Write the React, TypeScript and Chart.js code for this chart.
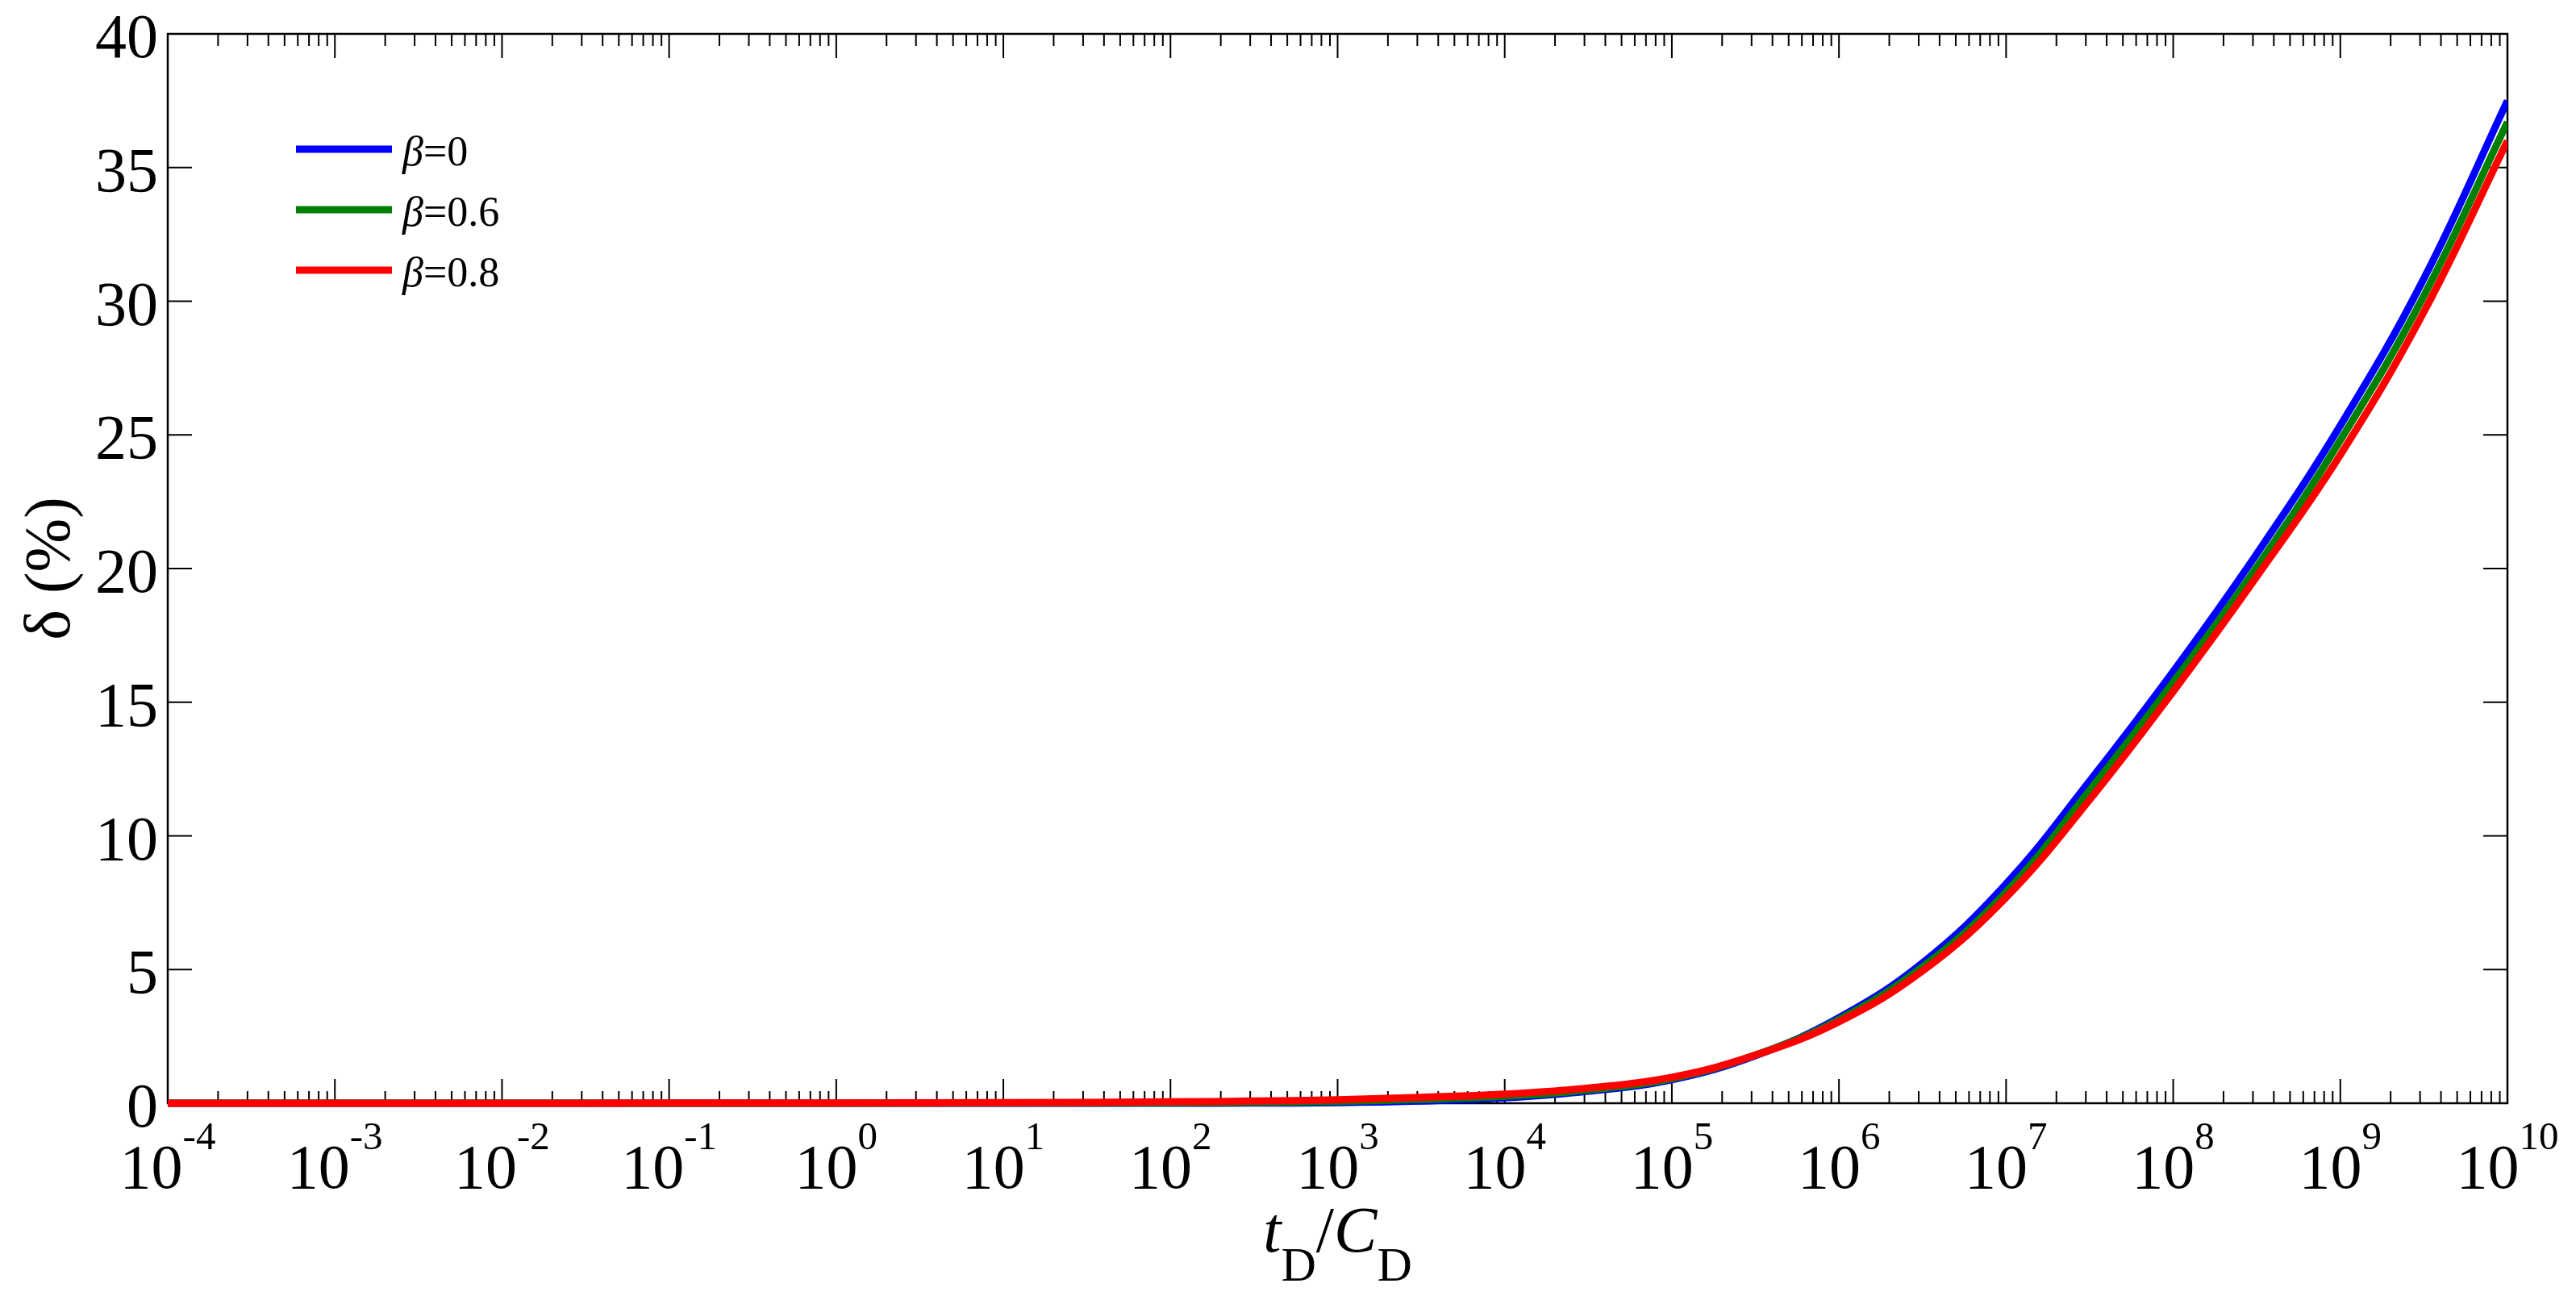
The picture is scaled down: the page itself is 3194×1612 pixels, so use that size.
import React, { useEffect, useRef } from 'react';
import { Chart, registerables } from 'chart.js';

Chart.register(...registerables);

// log10(tD/CD) sample positions
const logT = [-4, -3, -2, -1, 0, 1, 2, 2.5, 3, 3.5, 4, 4.5, 5, 5.5, 6, 6.5, 7, 7.5, 8, 8.5, 9, 9.5, 10];
// delta (%) for each beta
const beta0 = [0, 0, 0, 0, 0, 0, 0, 0.005, 0.02, 0.08, 0.2, 0.45, 0.88, 1.78, 3.2, 5.25, 8.2, 12.05, 16.15, 20.55, 25.35, 30.85, 37.5];
const beta06 = [0, 0, 0, 0, 0, 0.005, 0.015, 0.03, 0.07, 0.14, 0.26, 0.5, 0.92, 1.8, 3.13, 5.1, 7.9, 11.7, 15.75, 20.05, 24.8, 30.2, 36.7];
const beta08 = [0, 0, 0, 0.005, 0.01, 0.02, 0.05, 0.08, 0.13, 0.22, 0.34, 0.57, 0.97, 1.8, 3.05, 4.95, 7.7, 11.35, 15.4, 19.7, 24.25, 29.6, 36.0];

const seriesValues = [beta0, beta06, beta08];
const seriesLabels = ['0', '0.6', '0.8'];
const seriesColors = ['#0000ff', '#008000', '#ff0000'];

const yTicks = [0, 5, 10, 15, 20, 25, 30, 35, 40];
const xTickExponents = [-4, -3, -2, -1, 0, 1, 2, 3, 4, 5, 6, 7, 8, 9, 10];
const minorMultipliers = [2, 3, 4, 5, 6, 7, 8, 9];

const FONT = '"Liberation Serif", "Times New Roman", serif';

const framePlugin = {
  id: 'matlabFrame',
  beforeDatasetsDraw(chart: any) {
    const { ctx, chartArea: a, scales } = chart;
    const x = scales.x;
    const y = scales.y;
    ctx.save();
    ctx.strokeStyle = '#000';
    ctx.lineWidth = 2;
    ctx.beginPath();
    const maxE = xTickExponents[xTickExponents.length - 1];
    for (const e of xTickExponents) {
      const px = x.getPixelForValue(Math.pow(10, e));
      ctx.moveTo(px, a.bottom);
      ctx.lineTo(px, a.bottom - 30);
      ctx.moveTo(px, a.top);
      ctx.lineTo(px, a.top + 30);
      if (e < maxE) {
        for (const m of minorMultipliers) {
          const mx = x.getPixelForValue(m * Math.pow(10, e));
          ctx.moveTo(mx, a.bottom);
          ctx.lineTo(mx, a.bottom - 15);
          ctx.moveTo(mx, a.top);
          ctx.lineTo(mx, a.top + 15);
        }
      }
    }
    for (const v of yTicks) {
      const py = y.getPixelForValue(v);
      ctx.moveTo(a.left, py);
      ctx.lineTo(a.left + 30, py);
      ctx.moveTo(a.right, py);
      ctx.lineTo(a.right - 30, py);
    }
    ctx.stroke();
    ctx.lineWidth = 2.5;
    ctx.strokeRect(a.left, a.top, a.right - a.left, a.bottom - a.top);
    ctx.restore();
  },
  afterDraw(chart: any) {
    const { ctx, chartArea: a, scales } = chart;
    const x = scales.x;
    const y = scales.y;
    ctx.save();
    ctx.fillStyle = '#000';

    // y tick labels
    ctx.font = `78px ${FONT}`;
    ctx.textAlign = 'right';
    ctx.textBaseline = 'alphabetic';
    for (const v of yTicks) {
      const py = y.getPixelForValue(v);
      ctx.fillText(String(v), a.left - 12, py + 29);
    }

    // x tick labels: 10^e
    ctx.textAlign = 'left';
    for (const e of xTickExponents) {
      const px = x.getPixelForValue(Math.pow(10, e));
      ctx.font = `78px ${FONT}`;
      const wMain = ctx.measureText('10').width;
      ctx.font = `49px ${FONT}`;
      const sup = String(e);
      const wSup = ctx.measureText(sup).width;
      const start = px - (wMain + wSup) / 2;
      ctx.font = `78px ${FONT}`;
      ctx.fillText('10', start, a.bottom + 105);
      ctx.font = `49px ${FONT}`;
      ctx.fillText(sup, start + wMain, a.bottom + 57);
    }

    // x axis title: tD/CD
    const parts = [
      { t: 't', f: `italic 80px ${FONT}`, dy: 0 },
      { t: 'D', f: `60px ${FONT}`, dy: 36 },
      { t: '/', f: `80px ${FONT}`, dy: 0 },
      { t: 'C', f: `italic 80px ${FONT}`, dy: 0 },
      { t: 'D', f: `60px ${FONT}`, dy: 36 },
    ];
    let total = 0;
    const widths: number[] = [];
    for (const p of parts) {
      ctx.font = p.f;
      const w = ctx.measureText(p.t).width;
      widths.push(w);
      total += w;
    }
    let cx = (a.left + a.right) / 2 - total / 2;
    const baseY = a.bottom + 184;
    parts.forEach((p, i) => {
      ctx.font = p.f;
      ctx.fillText(p.t, cx, baseY + p.dy);
      cx += widths[i];
    });

    // y axis title
    ctx.save();
    ctx.translate(86, (a.top + a.bottom) / 2);
    ctx.rotate(-Math.PI / 2);
    ctx.textAlign = 'center';
    ctx.textBaseline = 'alphabetic';
    ctx.font = `80px ${FONT}`;
    ctx.fillText('\u03b4 (%)', 0, 0);
    ctx.restore();

    // legend
    seriesLabels.forEach((lab, i) => {
      const ly = a.top + 143 + 75 * i;
      ctx.strokeStyle = seriesColors[i];
      ctx.lineWidth = 9;
      ctx.beginPath();
      ctx.moveTo(a.left + 159, ly);
      ctx.lineTo(a.left + 278, ly);
      ctx.stroke();
      ctx.fillStyle = '#000';
      ctx.textAlign = 'left';
      ctx.font = `italic 52px ${FONT}`;
      const tx = a.left + 291;
      ctx.fillText('\u03b2', tx, ly + 20);
      const wb = ctx.measureText('\u03b2').width;
      ctx.font = `52px ${FONT}`;
      ctx.fillText('=' + lab, tx + wb, ly + 20);
    });

    ctx.restore();
  },
};

export default function App() {
  const canvasRef = useRef<HTMLCanvasElement | null>(null);

  useEffect(() => {
    const canvas = canvasRef.current;
    if (!canvas) return;
    const datasets = seriesValues.map((vals, i) => ({
      label: '\u03b2=' + seriesLabels[i],
      data: logT.map((e, j) => ({ x: Math.pow(10, e), y: vals[j] })),
      borderColor: seriesColors[i],
      backgroundColor: seriesColors[i],
      borderWidth: 9,
      pointRadius: 0,
      fill: false,
      tension: 0.4,
      clip: { left: 0, right: 0, top: 0, bottom: 5 },
      order: 3 - i,
    }));
    const chart = new Chart(canvas, {
      type: 'line',
      data: { datasets },
      options: {
        animation: false,
        responsive: false,
        devicePixelRatio: 1,
        layout: { padding: { left: 208, right: 85, top: 42, bottom: 244 } },
        plugins: { legend: { display: false }, tooltip: { enabled: false } },
        scales: {
          x: { type: 'logarithmic', min: 1e-4, max: 1e10, display: false },
          y: { type: 'linear', min: 0, max: 40, display: false },
        },
      },
      plugins: [framePlugin],
    } as any);
    if ((document as any).fonts && (document as any).fonts.load) {
      Promise.all([
        (document as any).fonts.load(`80px ${FONT}`),
        (document as any).fonts.load(`italic 80px ${FONT}`),
      ]).then(() => chart.draw()).catch(() => {});
    }
    return () => chart.destroy();
  }, []);

  return (
    <div style={{ position: 'absolute', left: 0, top: 0, width: 3194, height: 1612, background: '#fff' }}>
      <canvas ref={canvasRef} width={3194} height={1612} style={{ display: 'block' }} />
    </div>
  );
}
